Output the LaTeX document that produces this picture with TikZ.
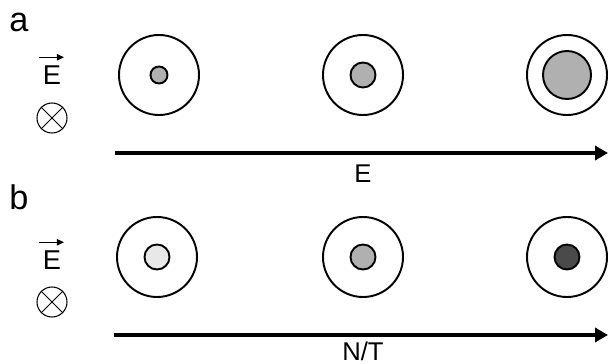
\documentclass[tikz,border=0pt]{standalone}
\usepackage{fontspec}
\setmainfont{Liberation Sans}
\usetikzlibrary{arrows.meta}

\definecolor{coreLight}{gray}{0.91}
\definecolor{coreMid}{gray}{0.69}
\definecolor{coreDark}{gray}{0.29}

\tikzset{
    ring/.style={line width=1.1pt},
    core/.style={line width=1.1pt},
    axis/.style={line width=2pt, -{Triangle[length=7.4pt, width=8pt]}},
    vecarrow/.style={line width=0.7pt, -{Triangle[length=4pt, width=3.6pt]}},
    lbl/.style={inner sep=0pt, font=\fontsize{14.6}{17}\selectfont},
    field/.style={inner sep=0pt, font=\fontsize{15.5}{18}\selectfont},
    panel/.style={inner sep=0pt, font=\fontsize{19.5}{22}\selectfont},
    cross/.style={circle, draw, line width=0.6pt, minimum size=30*0.02cm, inner sep=0pt},
}

\begin{document}
\begin{tikzpicture}[x=0.02cm, y=-0.02cm]
    \useasboundingbox (0,0) rectangle (608,364);

    % Panel a %
    \node[panel] (pa) at (19,22) {a};
    \node[field] (ea) at (52,75) {E};
    \draw[vecarrow] ([shift={(-13,-8)}]ea.north) -- ([shift={(12,-8)}]ea.north);
    \node[cross] (oa) at (52,118) {};
    \draw[line width=0.6pt] (oa.north west) -- (oa.south east) (oa.north east) -- (oa.south west);

    \coordinate (a1) at (159,75);
    \coordinate (a2) at (363,75);
    \coordinate (a3) at (567,75);
    \draw[ring] (a1) circle[radius=40];
    \draw[ring] (a2) circle[radius=40];
    \draw[ring] (a3) circle[radius=40];
    \draw[core, fill=coreMid] (a1) circle[radius=8.5];
    \draw[core, fill=coreMid] (a2) circle[radius=12.5];
    \draw[core, fill=coreMid] (a3) circle[radius=24];

    \coordinate (sa) at (115,153);
    \coordinate (ta) at (608,153);
    \draw[axis] (sa) -- (ta);
    \node[lbl] (xa) at (363,174) {E};

    % Panel b %
    \node[panel] (pb) at (19,197) {b};
    \node[field] (eb) at (52,260) {E};
    \draw[vecarrow] ([shift={(-13,-8)}]eb.north) -- ([shift={(12,-8)}]eb.north);
    \node[cross] (ob) at (52,302) {};
    \draw[line width=0.6pt] (ob.north west) -- (ob.south east) (ob.north east) -- (ob.south west);

    \coordinate (b1) at (157,257);
    \coordinate (b2) at (363,257);
    \coordinate (b3) at (567,257);
    \draw[ring] (b1) circle[radius=40];
    \draw[ring] (b2) circle[radius=40];
    \draw[ring] (b3) circle[radius=40];
    \draw[core, fill=coreLight] (b1) circle[radius=12.5];
    \draw[core, fill=coreMid] (b2) circle[radius=12.5];
    \draw[core, fill=coreDark] (b3) circle[radius=12.5];

    \coordinate (sb) at (114,335);
    \coordinate (tb) at (608,335);
    \draw[axis] (sb) -- (tb);
    \node[lbl] (xb) at (363,351) {N/T};
\end{tikzpicture}
\end{document}
